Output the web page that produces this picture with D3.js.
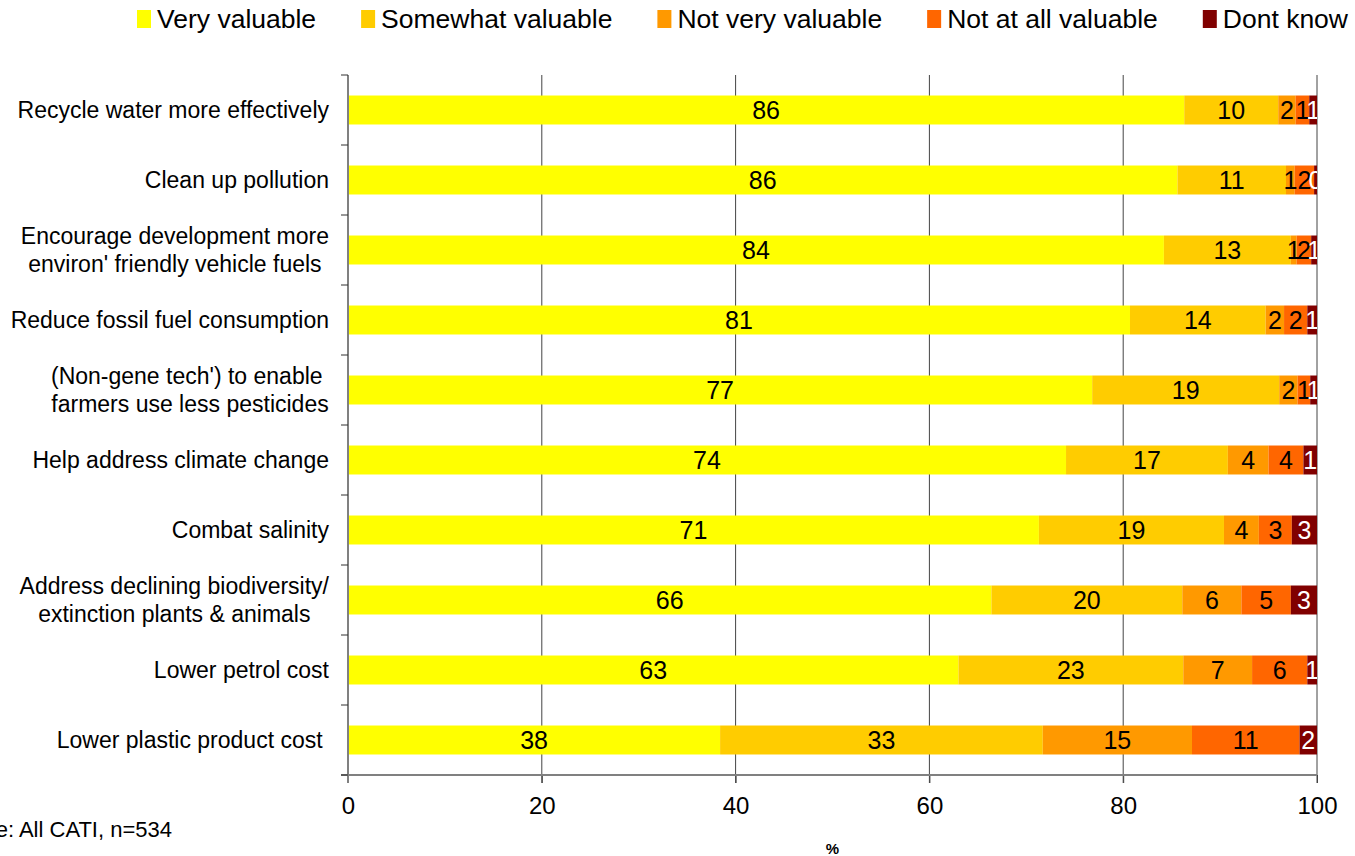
<!DOCTYPE html>
<html>
<head>
<meta charset="utf-8">
<script src="https://cdn.jsdelivr.net/npm/d3@7"></script>
<style>
  html, body { margin: 0; padding: 0; background: #fff; }
  svg { display: block; font-family: "Liberation Sans", Arial, sans-serif; }
  .cat { white-space: pre; }
</style>
</head>
<body>
<svg id="chart" width="1355" height="856"></svg>
<script>
// Survey items (top to bottom)
const categories = [
  ["Recycle water more effectively"],
  ["Clean up pollution"],
  ["Encourage development more", "environ' friendly vehicle fuels"],
  ["Reduce fossil fuel consumption"],
  ["(Non-gene tech') to enable ", "farmers use less pesticides"],
  ["Help address climate change"],
  ["Combat salinity"],
  ["Address declining biodiversity/", "extinction plants & animals"],
  ["Lower petrol cost"],
  ["Lower plastic product cost "]
];

// Response shares (%)
const veryValuable     = [86.3, 85.6, 84.2, 80.7, 76.8, 74.1, 71.3, 66.4, 63.0, 38.4];
const somewhatValuable = [9.7, 11.2, 13.1, 14.0, 19.3, 16.7, 19.1, 19.7, 23.2, 33.3];
const notVeryValuable  = [1.8, 0.9, 0.6, 1.9, 1.9, 4.2, 3.6, 6.1, 7.1, 15.4];
const notAtAllValuable = [1.4, 2.0, 1.5, 2.4, 1.3, 3.6, 3.4, 5.1, 5.7, 11.1];
const dontKnow         = [0.8, 0.3, 0.6, 1.0, 0.7, 1.4, 2.6, 2.7, 1.0, 1.8];

const seriesNames  = ["Very valuable", "Somewhat valuable", "Not very valuable", "Not at all valuable", "Dont know"];
const seriesColors = ["#FFFF00", "#FFCC00", "#FF9900", "#FF6600", "#800000"];
const labelColors  = ["#000", "#000", "#000", "#000", "#fff"];
const xTicks = [0, 20, 40, 60, 80, 100];

const seriesValues = [veryValuable, somewhatValuable, notVeryValuable, notAtAllValuable, dontKnow];
const rows = categories.map((c, i) => {
  const r = { key: i };
  seriesNames.forEach((s, j) => { r[s] = seriesValues[j][i]; });
  return r;
});

const svg = d3.select("#chart");
const plot = { left: 348, right: 1317, top: 75, bottom: 775 };

const x = d3.scaleLinear().domain([0, 100]).range([plot.left, plot.right]);
const y = d3.scaleBand()
  .domain(d3.range(categories.length))
  .range([plot.top, plot.bottom])
  .paddingInner(0.586)
  .paddingOuter(0.293);

const stacked = d3.stack().keys(seriesNames)(rows);

// Vertical gridlines (extend below the axis as tick marks)
svg.append("g")
  .selectAll("line")
  .data(xTicks.filter(t => t > 0))
  .join("line")
  .attr("x1", d => x(d)).attr("x2", d => x(d))
  .attr("y1", plot.top).attr("y2", plot.bottom + 8)
  .attr("stroke", "#444")
  .attr("stroke-width", 1);

// Bars
svg.append("clipPath").attr("id", "plotClip")
  .append("rect")
  .attr("x", plot.left).attr("y", plot.top)
  .attr("width", plot.right - plot.left).attr("height", plot.bottom - plot.top);

stacked.forEach((layer, j) => {
  svg.append("g")
    .attr("fill", seriesColors[j])
    .selectAll("rect")
    .data(layer)
    .join("rect")
    .attr("x", d => x(d[0]))
    .attr("y", (d, i) => y(i))
    .attr("width", d => x(d[1]) - x(d[0]))
    .attr("height", y.bandwidth());
});

// Value labels, clipped to the plot area
const labelLayer = svg.append("g").attr("clip-path", "url(#plotClip)");
stacked.forEach((layer, j) => {
  labelLayer.append("g")
    .selectAll("text")
    .data(layer)
    .join("text")
    .attr("x", d => x((d[0] + d[1]) / 2))
    .attr("y", (d, i) => y(i) + y.bandwidth() / 2)
    .attr("dy", "0.36em")
    .attr("text-anchor", "middle")
    .attr("font-size", 25)
    .attr("fill", labelColors[j])
    .text(d => d3.format(".0f")(d[1] - d[0]));
});

// X axis
const xAxis = d3.axisBottom(x).tickValues(xTicks).tickSize(8).tickPadding(14);
const gx = svg.append("g")
  .attr("transform", `translate(0,${plot.bottom})`)
  .call(xAxis);
gx.select(".domain").remove();
gx.selectAll(".tick line").attr("stroke", "#444");
gx.selectAll(".tick text").attr("font-size", 24).attr("fill", "#000")
  .attr("font-family", "\"Liberation Sans\", Arial, sans-serif");
svg.append("line")
  .attr("x1", plot.left - 7).attr("x2", plot.right)
  .attr("y1", plot.bottom).attr("y2", plot.bottom)
  .attr("stroke", "#808080").attr("stroke-width", 2);

// Y axis line and category boundary ticks
svg.append("line")
  .attr("x1", plot.left).attr("x2", plot.left)
  .attr("y1", plot.top).attr("y2", plot.bottom + 8)
  .attr("stroke", "#808080").attr("stroke-width", 2);
const boundaries = d3.range(categories.length + 1).map(i => plot.top + i * y.step());
svg.append("g").selectAll("line")
  .data(boundaries)
  .join("line")
  .attr("x1", plot.left - 7).attr("x2", plot.left)
  .attr("y1", d => d).attr("y2", d => d)
  .attr("stroke", "#333").attr("stroke-width", 1);

// Category labels: each block right-aligned, lines centred within the block
const catFont = 23, lineH = 28, labelRight = 329;
const catG = svg.append("g");
categories.forEach((lines, i) => {
  const cy = y(i) + y.bandwidth() / 2;
  const t = catG.append("text").attr("class", "cat").attr("font-size", catFont).attr("fill", "#000");
  const spans = lines.map((ln, k) =>
    t.append("tspan").text(ln)
      .attr("y", cy + (k - (lines.length - 1) / 2) * lineH)
      .attr("dy", "0.36em"));
  const maxW = d3.max(spans.map(s => s.node().getComputedTextLength()));
  const cx = labelRight - maxW / 2;
  spans.forEach(s => s.attr("x", cx).attr("text-anchor", "middle"));
});

// Axis title
svg.append("text")
  .attr("x", x(50)).attr("y", 854)
  .attr("text-anchor", "middle")
  .attr("font-size", 15).attr("font-weight", "bold")
  .text("%");

// Base note
svg.append("text")
  .attr("x", 172).attr("y", 837)
  .attr("text-anchor", "end")
  .attr("font-size", 22)
  .text("Base: All CATI, n=534");

// Legend
const legend = svg.append("g");
let lx = 137;
seriesNames.forEach((name, j) => {
  legend.append("rect")
    .attr("x", lx).attr("y", 10)
    .attr("width", 14).attr("height", 18)
    .attr("fill", seriesColors[j]);
  const t = legend.append("text")
    .attr("x", lx + 20).attr("y", 28)
    .attr("font-size", 26.5)
    .text(name);
  lx += 20 + t.node().getComputedTextLength() + 45;
});
</script>
</body>
</html>
